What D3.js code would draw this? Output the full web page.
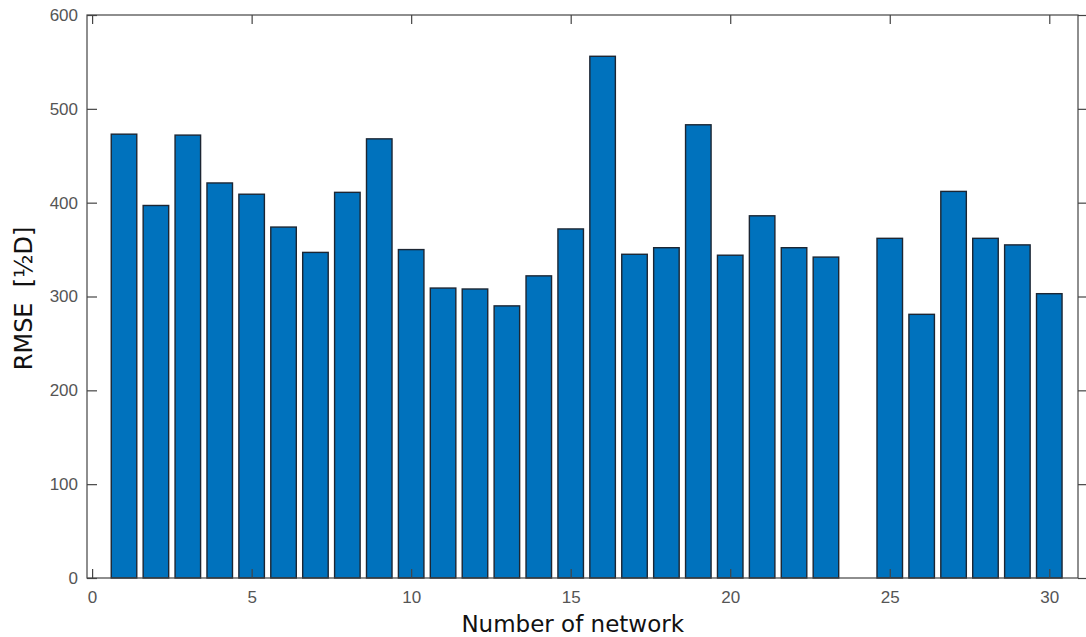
<!DOCTYPE html>
<html>
<head>
<meta charset="utf-8">
<script src="https://cdn.jsdelivr.net/npm/d3@7"></script>
<style>
  body { margin: 0; background: #fff; }
  svg { display: block; }
</style>
</head>
<body>
<script>
// network number -> RMSE, network 24 has no bar
const networks = [1, 2, 3, 4, 5, 6, 7, 8, 9, 10, 11, 12, 13, 14, 15, 16, 17, 18, 19, 20, 21, 22, 23, 25, 26, 27, 28, 29, 30]
const rmse = [473, 397, 472, 421, 409, 374, 347, 411, 468, 350, 309, 308, 290, 322, 372, 556, 345, 352, 483, 344, 386, 352, 342, 362, 281, 412, 362, 355, 303]
const x_ticks = [0, 5, 10, 15, 20, 25, 30]
const y_ticks = [0, 100, 200, 300, 400, 500, 600]

const width = 1086
const height = 637
const margin = {top: 15, right: 8, bottom: 59, left: 87}

const svg = d3.select('body').append('svg')
  .attr('width', width)
  .attr('height', height)

const x = d3.scaleLinear()
  .domain([-0.16, 30.9])
  .range([margin.left, width - margin.right])

const y = d3.scaleLinear()
  .domain([0, 600])
  .range([height - margin.bottom, margin.top])

const bar_width = 0.8

svg.append('g')
  .selectAll('rect')
  .data(networks)
  .join('rect')
    .attr('x', (d) => x(d - bar_width / 2))
    .attr('y', (d, i) => y(rmse[i]))
    .attr('width', x(bar_width) - x(0))
    .attr('height', (d, i) => y(0) - y(rmse[i]))
    .attr('fill', '#0072bd')
    .attr('stroke', '#1c2633')
    .attr('stroke-width', 1.4)

const axis_color = '#444'
const label_color = '#555'

function style_axis(g) {
  g.select('.domain').remove()
  g.selectAll('.tick line').attr('stroke', axis_color).attr('stroke-width', 1.2)
  g.selectAll('.tick text')
    .attr('fill', label_color)
    .attr('font-size', 17)
    .attr('font-family', 'Liberation Sans, Arial, sans-serif')
}

svg.append('g')
  .attr('transform', `translate(0, ${y(0)})`)
  .call(d3.axisBottom(x).tickValues(x_ticks).tickSize(-9).tickPadding(13))
  .call(style_axis)

svg.append('g')
  .attr('transform', `translate(0, ${y(600)})`)
  .call(d3.axisTop(x).tickValues(x_ticks).tickSize(-9).tickFormat(''))
  .call(style_axis)

svg.append('g')
  .attr('transform', `translate(${x.range()[0]}, 0)`)
  .call(d3.axisLeft(y).tickValues(y_ticks).tickSize(-10).tickPadding(9))
  .call(style_axis)

svg.append('g')
  .attr('transform', `translate(${x.range()[1]}, 0)`)
  .call(d3.axisRight(y).tickValues(y_ticks).tickSize(8).tickFormat(''))
  .call(style_axis)

// axes box
svg.append('rect')
  .attr('x', x.range()[0])
  .attr('y', y(600))
  .attr('width', x.range()[1] - x.range()[0])
  .attr('height', y(0) - y(600))
  .attr('fill', 'none')
  .attr('stroke', axis_color)
  .attr('stroke-width', 1.2)

svg.append('text')
  .attr('x', (x(0) + x(30)) / 2 + 2)
  .attr('y', 632)
  .attr('text-anchor', 'middle')
  .attr('font-family', 'DejaVu Sans, Verdana, sans-serif')
  .attr('font-size', 23)
  .attr('fill', '#111')
  .text('Number of network')

svg.append('text')
  .attr('transform', `translate(32, ${y(300) + 2}) rotate(-90)`)
  .attr('text-anchor', 'middle')
  .attr('font-family', 'DejaVu Sans, Verdana, sans-serif')
  .attr('font-size', 24)
  .attr('fill', '#111')
  .attr('xml:space', 'preserve')
  .style('white-space', 'pre')
  .text('RMSE  [½D]')
</script>
</body>
</html>
